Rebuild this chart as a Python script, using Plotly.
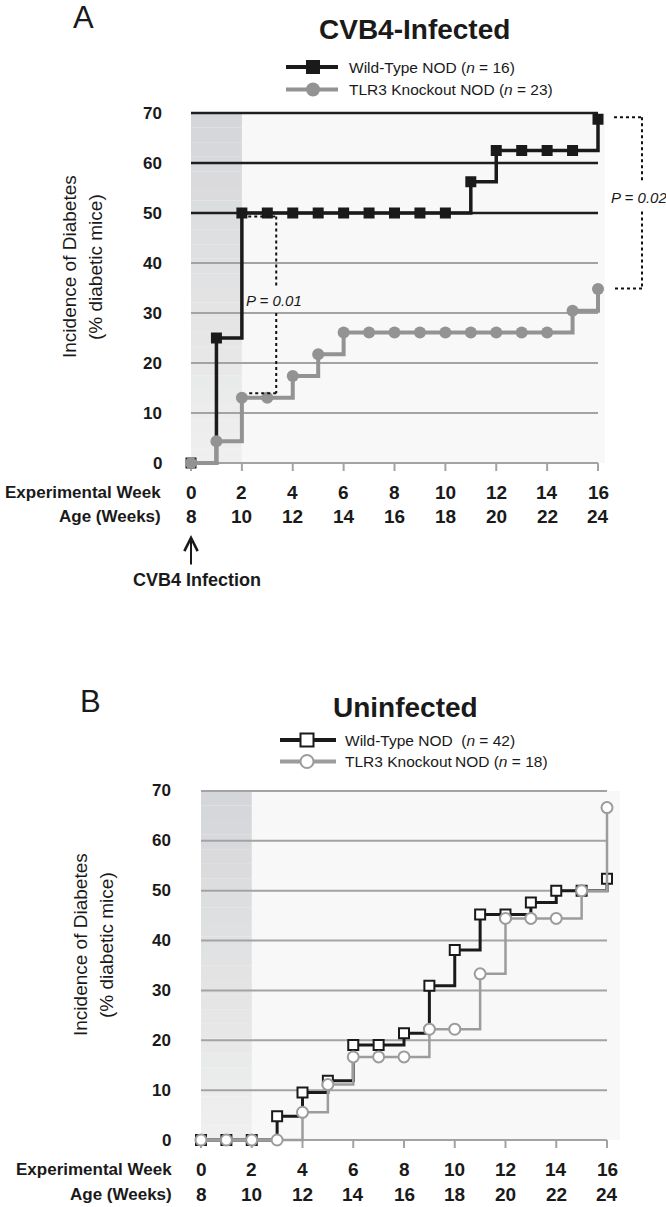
import plotly.graph_objects as go

# ---------------- data ----------------
weeks = list(range(0, 17))
x_tick_weeks = [0, 2, 4, 6, 8, 10, 12, 14, 16]
x_tick_age = [8, 10, 12, 14, 16, 18, 20, 22, 24]
y_ticks = [0, 10, 20, 30, 40, 50, 60, 70]

a_wt = [0, 25, 50, 50, 50, 50, 50, 50, 50, 50, 50, 56.25, 62.5, 62.5, 62.5, 62.5, 68.75]
a_ko = [0, 4.35, 13.04, 13.04, 17.39, 21.74, 26.09, 26.09, 26.09, 26.09, 26.09,
        26.09, 26.09, 26.09, 26.09, 30.43, 34.78]
b_wt = [0, 0, 0, 4.76, 9.52, 11.90, 19.05, 19.05, 21.43, 30.95, 38.10, 45.24,
        45.24, 47.62, 50.0, 50.0, 52.38]
b_ko = [0, 0, 0, 0, 5.56, 11.11, 16.67, 16.67, 16.67, 22.22, 22.22, 33.33,
        44.44, 44.44, 44.44, 50.0, 66.67]

a_names = ["Wild-Type NOD (<i>n</i> = 16)", "TLR3 Knockout NOD (<i>n</i> = 23)"]
b_names = ["Wild-Type NOD\u00a0 (<i>n</i> = 42)", "TLR3 Knockout\u2009NOD (<i>n</i> = 18)"]
p_a_early = "<i>P = 0.01</i>"
p_a_late = "<i>P = 0.02</i>"

# ---------------- styling / geometry ----------------
W, H = 666, 1207
FONT = "Liberation Sans, Arial, sans-serif"
INK = "#1a1a1a"
GRAY_A = "#939393"
GRAY_B = "#9c9c9c"
GRID = "#a3a3a3"


def px(x):
    return x / W


def py(y):
    return 1 - y / H


# pixel geometry of each panel: x of week 0 / week 16, y of 0 / 70
GA = dict(x0=191, x1=598, y0=463, y1=113, dx=(180, 615), dy=(100, 470),
          bg_right=605)
GB = dict(x0=201, x1=607, y0=1140, y1=791, dx=(190, 624), dy=(778, 1147),
          bg_right=620)


def axes_for(g):
    wmax = x_tick_weeks[-1]
    vmax = y_ticks[-1]
    ppw = (g["x1"] - g["x0"]) / wmax
    ppu = (g["y0"] - g["y1"]) / vmax
    xr = [(g["dx"][0] - g["x0"]) / ppw, wmax + (g["dx"][1] - g["x1"]) / ppw]
    yr = [-(g["dy"][1] - g["y0"]) / ppu, vmax + (g["y1"] - g["dy"][0]) / ppu]
    xd = [px(g["dx"][0]), px(g["dx"][1])]
    yd = [py(g["dy"][1]), py(g["dy"][0])]
    return xr, yr, xd, yd


fig = go.Figure()

# data traces
fig.add_trace(go.Scatter(x=weeks, y=a_wt, mode="lines+markers", xaxis="x", yaxis="y",
                         line=dict(shape="hv", color=INK, width=3.5),
                         marker=dict(symbol="square", size=11, color=INK),
                         cliponaxis=False, name="WT A"))
fig.add_trace(go.Scatter(x=weeks, y=a_ko, mode="lines+markers", xaxis="x", yaxis="y",
                         line=dict(shape="hv", color=GRAY_A, width=4),
                         marker=dict(symbol="circle", size=12, color=GRAY_A),
                         cliponaxis=False, name="KO A"))
fig.add_trace(go.Scatter(x=weeks, y=b_wt, mode="lines+markers", xaxis="x2", yaxis="y2",
                         line=dict(shape="hv", color=INK, width=3),
                         marker=dict(symbol="square", size=10, color="white",
                                     line=dict(color=INK, width=2)),
                         cliponaxis=False, name="WT B"))
fig.add_trace(go.Scatter(x=weeks, y=b_ko, mode="lines+markers", xaxis="x2", yaxis="y2",
                         line=dict(shape="hv", color=GRAY_B, width=2.5),
                         marker=dict(symbol="circle", size=11, color="white",
                                     line=dict(color=GRAY_B, width=2)),
                         cliponaxis=False, name="KO B"))

shapes = []
annotations = []


def txt(x, y, text, size, bold=False, xanchor="center", xref="paper", yref="paper",
        angle=0, family=FONT):
    f = dict(family=family, size=size, color=INK)
    if bold:
        f["weight"] = "bold"
    annotations.append(dict(xref=xref, yref=yref, x=x, y=y, xanchor=xanchor,
                            yanchor="middle", showarrow=False, text=text,
                            textangle=angle, font=f))


def panel_decor(g, xa, ya, dark_grid, letter, title, title_xy, letter_xy,
                names, leg, ytitle_x, ytitle_y, label_right, ytick_right, filled):
    xref, yref = xa, ya
    # plot background
    shapes.append(dict(type="rect", xref="paper", yref="paper",
                       x0=px(g["x0"]), x1=px(g["bg_right"]), y0=py(g["y0"]), y1=py(g["y1"]),
                       fillcolor="#f8f8f8", line=dict(width=0), layer="below"))
    # shaded infection window (weeks 0-2) as vertical gradient
    n = 24
    top = (213, 214, 217)
    bot = (239, 239, 239)
    vmax = y_ticks[-1]
    for i in range(n):
        t = i / (n - 1)
        c = tuple(int(round(top[k] + (bot[k] - top[k]) * t)) for k in range(3))
        ya0 = vmax - vmax * i / n
        ya1 = vmax - vmax * (i + 1) / n
        shapes.append(dict(type="rect", xref=xref, yref=yref, x0=x_tick_weeks[0], x1=x_tick_weeks[1],
                           y0=ya1, y1=ya0, fillcolor="rgb(%d,%d,%d)" % c,
                           line=dict(width=0), layer="below"))
    # gridlines + y tick labels
    for v in y_ticks:
        dark = v in dark_grid
        shapes.append(dict(type="line", xref=xref, yref=yref,
                           x0=x_tick_weeks[0], x1=x_tick_weeks[-1], y0=v, y1=v,
                           line=dict(color="#1e1e1e" if dark else GRID,
                                     width=2.5 if dark else 2), layer="below"))
        txt(px(ytick_right), v, str(v), 17, bold=True, xanchor="right", yref=yref)
    # x ticks + two-row labels
    for w, age in zip(x_tick_weeks, x_tick_age):
        shapes.append(dict(type="line", xref=xref, yref="paper", x0=w, x1=w,
                           y0=py(g["y0"]), y1=py(g["y0"] + 8),
                           line=dict(color=GRID, width=2), layer="below"))
        txt(w, py(g["y0"] + 29), str(w), 19, bold=True, xref=xref)
        txt(w, py(g["y0"] + 54), str(age), 19, bold=True, xref=xref)
    txt(px(label_right), py(g["y0"] + 29), "Experimental Week", 17, bold=True, xanchor="right")
    txt(px(label_right), py(g["y0"] + 54), "Age (Weeks)", 17, bold=True, xanchor="right")
    # y title (two lines)
    txt(px(ytitle_x[0]), py(ytitle_y), "Incidence of Diabetes", 19, angle=-90)
    txt(px(ytitle_x[1]), py(ytitle_y), "(% diabetic mice)", 19, angle=-90)
    # panel letter + title
    txt(px(letter_xy[0]), py(letter_xy[1]), letter, 31)
    txt(px(title_xy[0]), py(title_xy[1]), title, 28, bold=True)
    # legend
    lx0, lx1, mx, rows, tx = leg
    colors = [INK, GRAY_A if filled else GRAY_B]
    for k, (name, ry) in enumerate(zip(names, rows)):
        shapes.append(dict(type="line", xref="paper", yref="paper", x0=px(lx0), x1=px(lx1),
                           y0=py(ry), y1=py(ry), line=dict(color=colors[k], width=4)))
        s = 7 if filled else 6.5
        shapes.append(dict(type="rect" if k == 0 else "circle", xref="paper", yref="paper",
                           x0=px(mx - s), x1=px(mx + s), y0=py(ry + s), y1=py(ry - s),
                           fillcolor=colors[k] if filled else "white",
                           line=dict(color=colors[k], width=0 if filled else 2)))
        txt(px(tx), py(ry), name, 15.5, xanchor="left")


panel_decor(GA, "x", "y", [50, 60, 70], "A", "CVB4-Infected", (414, 29), (83, 18),
            a_names, (286, 338, 313, (67, 89.5), 347), (70, 96), 267, 163, 164, True)
panel_decor(GB, "x2", "y2", [], "B", "Uninfected", (405, 707), (90, 701),
            b_names, (280, 336, 307, (740, 761.5), 343), (80, 106), 945, 174, 173, False)

# ---- significance brackets (panel A) ----
DOT = dict(color="#111", width=2, dash="dot")
bx0, bx1 = weeks[2] + 0.25, weeks[3] + 0.35
top1, bot1 = a_wt[2] - 0.7, a_ko[2] + 0.9
for (x0, y0, x1, y1) in ((bx0, top1, bx1, top1), (bx1, top1, bx1, 35.3),
                         (bx1, 30.0, bx1, bot1), (bx1, bot1, bx0, bot1)):
    shapes.append(dict(type="line", xref="x", yref="y", x0=x0, y0=y0, x1=x1, y1=y1, line=DOT))
txt(px(244), 32.6, p_a_early, 15, xanchor="left", yref="y")

top2, bot2 = a_wt[-1] + 0.4, a_ko[-1] + 0.1
qx0, qx1 = px(614), px(642)
for (x0, y0, x1, y1) in ((qx0, top2, qx1, top2), (qx1, top2, qx1, 56.0),
                         (qx1, 50.3, qx1, bot2), (qx1, bot2, qx0, bot2)):
    shapes.append(dict(type="line", xref="paper", yref="y", x0=x0, y0=y0, x1=x1, y1=y1, line=DOT))
txt(px(609), 53.2, p_a_late, 15, xanchor="left", yref="y")

# ---- infection arrow ----
annotations.append(dict(xref="x", yref="paper", x=weeks[0], y=py(535), ax=0, ay=31,
                        text="", showarrow=True,
                        arrowhead=5, arrowsize=1.3, arrowwidth=2, arrowcolor=INK))
txt(px(197), py(580), "CVB4 Infection", 18, bold=True)

xrA, yrA, xdA, ydA = axes_for(GA)
xrB, yrB, xdB, ydB = axes_for(GB)
hidden = dict(showgrid=False, zeroline=False, showticklabels=False, showline=False, ticks="")

fig.update_layout(
    width=W, height=H, margin=dict(l=0, r=0, t=0, b=0),
    paper_bgcolor="white", plot_bgcolor="rgba(0,0,0,0)", showlegend=False,
    hovermode=False,
    xaxis=dict(domain=xdA, range=xrA, anchor="y", **hidden),
    yaxis=dict(domain=ydA, range=yrA, anchor="x", **hidden),
    xaxis2=dict(domain=xdB, range=xrB, anchor="y2", **hidden),
    yaxis2=dict(domain=ydB, range=yrB, anchor="x2", **hidden),
    shapes=shapes, annotations=annotations,
)

fig.write_html("out.html", config={"displayModeBar": False},
               post_script="document.body.style.margin='0';document.body.style.padding='0';")
